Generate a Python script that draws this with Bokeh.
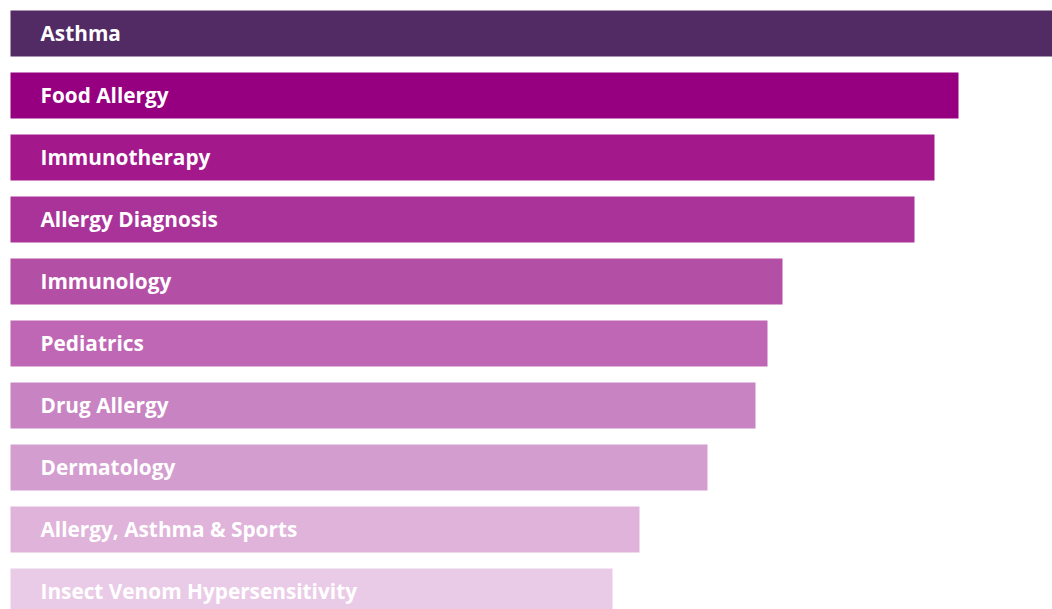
from bokeh.plotting import figure
from bokeh.models import Range1d, ColumnDataSource
from bokeh.core.properties import value
from bokeh.embed import file_html
from bokeh.resources import INLINE

categories = ["Asthma", "Food Allergy", "Immunotherapy", "Allergy Diagnosis", "Immunology",
              "Pediatrics", "Drug Allergy", "Dermatology", "Allergy, Asthma & Sports",
              "Insect Venom Hypersensitivity"]
values = [1042, 948, 924, 904, 772, 757, 745, 697, 629, 602]
colors = ["#522a64", "#960080", "#a3198c", "#a93399", "#b44fa6", "#bf67b5",
          "#c883c2", "#d49dd0", "#dfb3da", "#eacbe7"]

n = len(categories)
idx = list(range(n))
src = ColumnDataSource(dict(y=idx, v=values, c=colors, lab=categories,
                            lx=[30] * n))

W, H = 1052, 609
p = figure(width=W, height=H, output_backend="svg", toolbar_location=None,
           x_range=Range1d(-10, W - 10),
           y_range=Range1d((H - 33) / 62, -33 / 62),
           min_border=0)
p.outline_line_color = None
p.axis.visible = False
p.grid.visible = False
p.background_fill_color = "white"
p.border_fill_color = "white"

p.hbar(y="y", left=0, right="v", height=46 / 62, fill_color="c", line_color=None, source=src)
p.text(x="lx", y="y", text="lab", source=src, text_color="white",
       text_font=value("Open Sans"), text_font_style="bold", text_font_size="20.8px",
       text_baseline="middle", text_align="left", y_offset=-1)

open("out.html", "w").write(file_html(p, INLINE))
